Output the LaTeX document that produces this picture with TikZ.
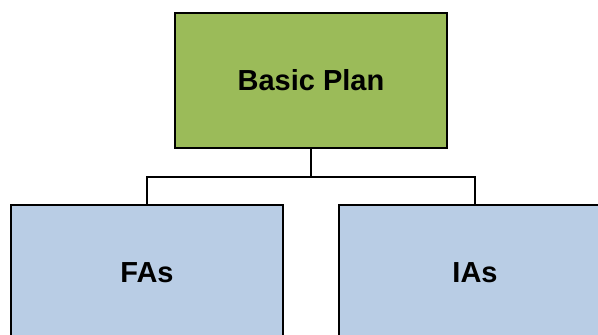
\documentclass[tikz,border=0pt]{standalone}
\usepackage{fontspec}
\setmainfont{Liberation Sans}
\usepackage{tikz}
\usetikzlibrary{positioning}
\definecolor{plangreen}{HTML}{9BBB59}
\definecolor{partblue}{HTML}{B9CDE5}

\begin{document}
\begin{tikzpicture}[
    x=1pt, y=-1pt,
    box/.style={rectangle, draw, line width=1.4pt, minimum width=272pt, minimum height=135pt, fill=#1, font=\fontsize{29}{34}\selectfont\bfseries, inner sep=0pt},
    box/.default=partblue,
    conn/.style={line width=1.4pt}
]
\useasboundingbox (0,0) rectangle (598,335);
\clip (0,0) rectangle (598,335);

% Plan
\node[box=plangreen] (plan) at (311, 80.5) {Basic Plan};

% Annexes
\node[box] (fas) at (147, 272.5) {FAs};
\node[box] (ias) at (475, 272.5) {IAs};

% Connectors
\coordinate (bus) at (311, 177);
\draw[conn] (plan.south) -- (bus);
\draw[conn] (bus) -| (fas.north);
\draw[conn] (bus) -| (ias.north);

\end{tikzpicture}
\end{document}
